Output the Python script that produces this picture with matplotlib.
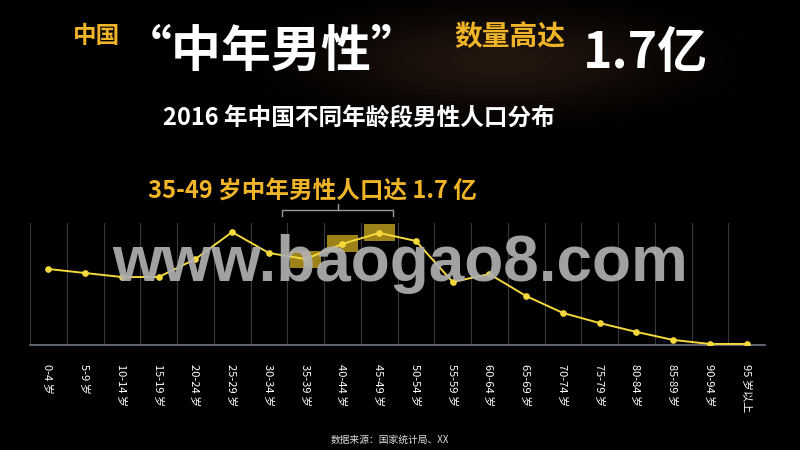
import numpy as np
import matplotlib
matplotlib.use("Agg")
import matplotlib.pyplot as plt

plt.rcParams['font.family'] = ['Noto Sans CJK SC', 'DejaVu Sans']

# 2016 男性人口（万人）
age_groups = ["0-4 岁", "5-9 岁", "10-14 岁", "15-19 岁", "20-24 岁", "25-29 岁",
              "30-34 岁", "35-39 岁", "40-44 岁", "45-49 岁", "50-54 岁", "55-59 岁",
              "60-64 岁", "65-69 岁", "70-74 岁", "75-79 岁", "80-84 岁", "85-89 岁",
              "90-94 岁", "95 岁以上"]
male_pop = [4360, 4130, 3900, 3900, 4930, 6480, 5280, 4930, 5800, 6430,
            5970, 3620, 4070, 2810, 1840, 1260, 750, 290, 60, 60]
highlight = ["35-39 岁", "40-44 岁", "45-49 岁"]

GOLD = "#f0b428"
LINE = "#f5d83c"

fig = plt.figure(figsize=(8, 4.5), dpi=100, facecolor="black")

# 背景的淡金色光晕
bg = fig.add_axes([0, 0, 1, 1], zorder=-10)
gx, gy = np.meshgrid(np.linspace(0, 800, 200), np.linspace(0, 450, 120))
glow = np.exp(-(((gx - 500) / 160) ** 2 + ((gy - 60) / 45) ** 2))
bg.imshow(glow, extent=[0, 800, 450, 0], cmap="copper", vmin=0, vmax=9, aspect="auto")
bg.set_xlim(0, 800)
bg.set_ylim(450, 0)
bg.axis("off")

ax = fig.add_axes([30 / 800, 1 - 345 / 450, 735 / 800, 122 / 450])
ax.set_facecolor("none")
x = np.arange(len(age_groups))

for b in np.arange(-0.5, len(age_groups), 1):
    ax.axvline(b, color="#3a3a3a", lw=0.8, zorder=1)

hi_idx = [age_groups.index(h) for h in highlight]
hi_val = [male_pop[i] for i in hi_idx]
ax.bar(hi_idx, [980] * len(hi_idx), bottom=np.array(hi_val) - 490, width=0.85,
       color="#b89a1e", alpha=0.85, zorder=2)

ax.plot(x, male_pop, color=LINE, lw=1.4, marker="o", ms=3.8, zorder=4)

ax.set_xlim(-0.5, len(age_groups) - 0.5)
ax.set_ylim(0, 7000)
ax.set_yticks([])
ax.set_xticks(x)
ax.set_xticklabels(age_groups, rotation=270, color="white", fontsize=8)
ax.tick_params(axis="x", length=0, pad=14)
for s in ["top", "right", "left"]:
    ax.spines[s].set_visible(False)
ax.spines["bottom"].set_color("#707586")
ax.spines["bottom"].set_linewidth(1.2)

# 水印
fig.text(400 / 800, 1 - 264 / 450, "www.baogao8.com", ha="center", va="center",
         fontsize=46, fontweight="bold", color="#b0b0b0", alpha=0.92,
         family=["Liberation Sans", "DejaVu Sans"], zorder=10)

# 括号
bx0, bx1, by = 282 / 800, 393 / 800, 1 - 210 / 450
fig.add_artist(plt.Line2D([bx0, bx0, bx1, bx1], [by - 6 / 450, by, by, by - 6 / 450],
                          color="#9a9a9a", lw=1))
fig.add_artist(plt.Line2D([(bx0 + bx1) / 2] * 2, [by, by + 6 / 450], color="#9a9a9a", lw=1))

# 标题文字
fig.text(97 / 800, 1 - 36 / 450, "中国", ha="center", va="center", color=GOLD,
         fontsize=17, fontweight="bold")
fig.text(272 / 800, 1 - 52 / 450, "“中年男性”", ha="center", va="center", color="white",
         fontsize=36, fontweight="bold")
fig.text(510 / 800, 1 - 37 / 450, "数量高达", ha="center", va="center", color=GOLD,
         fontsize=20, fontweight="bold")
fig.text(645 / 800, 1 - 53 / 450, "1.7亿", ha="center", va="center", color="white",
         fontsize=36, fontweight="bold")
fig.text(359 / 800, 1 - 118 / 450, "2016 年中国不同年龄段男性人口分布", ha="center",
         va="center", color="white", fontsize=17, fontweight="bold")
fig.text(312 / 800, 1 - 191 / 450, "35-49 岁中年男性人口达 1.7 亿", ha="center",
         va="center", color=GOLD, fontsize=17, fontweight="bold")
fig.text(390 / 800, 1 - 440 / 450, "数据来源：国家统计局、XX", ha="center", va="center",
         color="#dddddd", fontsize=7)

fig.savefig("out.png", dpi=100, facecolor="black")
